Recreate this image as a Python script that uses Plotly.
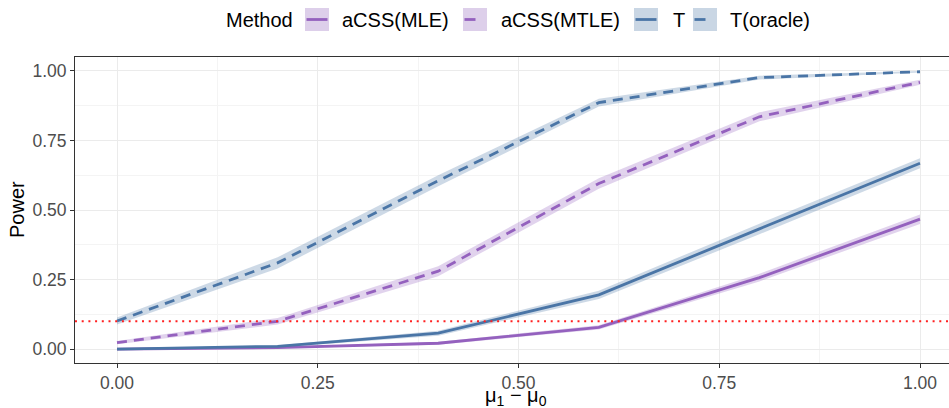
import plotly.graph_objects as go

# ---- data ----
mu_diff = [0.0, 0.2, 0.4, 0.6, 0.8, 1.0]

acss_mle = [0.0, 0.005, 0.021, 0.078, 0.257, 0.467]
acss_mle_lo = [0.0, 0.003, 0.016, 0.070, 0.243, 0.450]
acss_mle_hi = [0.0, 0.007, 0.026, 0.086, 0.271, 0.484]

acss_mtle = [0.023, 0.100, 0.280, 0.595, 0.835, 0.959]
acss_mtle_lo = [0.017, 0.088, 0.262, 0.576, 0.819, 0.950]
acss_mtle_hi = [0.029, 0.112, 0.298, 0.614, 0.851, 0.968]

t_stat = [0.0, 0.010, 0.057, 0.195, 0.432, 0.668]
t_stat_lo = [0.0, 0.006, 0.048, 0.180, 0.413, 0.650]
t_stat_hi = [0.0, 0.014, 0.066, 0.210, 0.451, 0.686]

t_oracle = [0.101, 0.310, 0.605, 0.886, 0.976, 0.997]
t_oracle_lo = [0.088, 0.290, 0.585, 0.872, 0.969, 0.994]
t_oracle_hi = [0.114, 0.330, 0.625, 0.900, 0.983, 1.000]

alpha_level = 0.1
methods = ["aCSS(MLE)", "aCSS(MTLE)", "T", "T(oracle)"]
x_ticks = [0.0, 0.25, 0.5, 0.75, 1.0]
x_tick_text = ["0.00", "0.25", "0.50", "0.75", "1.00"]
y_ticks = [0.0, 0.25, 0.5, 0.75, 1.0]
y_tick_text = ["0.00", "0.25", "0.50", "0.75", "1.00"]

# ---- styles ----
PURPLE = "#9461BE"
BLUE = "#4A75A6"
PURPLE_FILL = "rgba(148,97,190,0.28)"
BLUE_FILL = "rgba(74,117,166,0.28)"
DASH = "10px,7px"
FONT = "Liberation Sans, Arial, Helvetica, sans-serif"

series = [
    (acss_mle, acss_mle_lo, acss_mle_hi, PURPLE, PURPLE_FILL, "solid"),
    (acss_mtle, acss_mtle_lo, acss_mtle_hi, PURPLE, PURPLE_FILL, DASH),
    (t_stat, t_stat_lo, t_stat_hi, BLUE, BLUE_FILL, "solid"),
    (t_oracle, t_oracle_lo, t_oracle_hi, BLUE, BLUE_FILL, DASH),
]

W, H = 949, 408
ML, MR, MT, MB = 75, 0, 57, 45
PW, PH = W - ML - MR, H - MT - MB


def px(xp):
    return (xp - ML) / PW


def py(yp):
    return (H - MB - yp) / PH


fig = go.Figure()

for name, (y, lo, hi, col, fcol, dash) in zip(methods, series):
    fig.add_trace(go.Scatter(
        x=mu_diff + mu_diff[::-1], y=hi + lo[::-1], fill="toself",
        fillcolor=fcol, line=dict(width=0), mode="lines",
        hoverinfo="skip", showlegend=False))
for name, (y, lo, hi, col, fcol, dash) in zip(methods, series):
    fig.add_trace(go.Scatter(
        x=mu_diff, y=y, mode="lines", name=name,
        line=dict(color=col, width=2.8, dash=dash), showlegend=False))

shapes = []
annotations = []

# reference level
shapes.append(dict(type="line", xref="paper", yref="y", x0=0, x1=1,
                   y0=alpha_level, y1=alpha_level,
                   line=dict(color="#FF2020", width=2, dash="2px,4.7px")))

# manual legend
LEG_Y = 19.5
annotations.append(dict(text="Method", xref="paper", yref="paper",
                        x=px(224), y=py(LEG_Y), xanchor="left", yanchor="middle",
                        showarrow=False, font=dict(size=20, color="#000000", family=FONT)))
key_left = [305, 463, 634, 693]
label_left = [340, 499, 671, 728]
for name, (y, lo, hi, col, fcol, dash), kx, lx in zip(methods, series, key_left, label_left):
    solid_fill = "#DDCFEA" if col == PURPLE else "#C9D6E4"
    shapes.append(dict(type="rect", xref="paper", yref="paper",
                       x0=px(kx), x1=px(kx + 24), y0=py(LEG_Y + 11.5), y1=py(LEG_Y - 11.5),
                       fillcolor=solid_fill, line=dict(width=0), layer="above"))
    x_end = kx + 22.5 if dash == "solid" else kx + 12.5
    shapes.append(dict(type="line", xref="paper", yref="paper",
                       x0=px(kx + 1.5), x1=px(x_end), y0=py(LEG_Y), y1=py(LEG_Y),
                       line=dict(color=col, width=2.8, dash="solid"), layer="above"))
    annotations.append(dict(text=name, xref="paper", yref="paper",
                            x=px(lx), y=py(LEG_Y), xanchor="left", yanchor="middle",
                            showarrow=False, font=dict(size=20, color="#000000", family=FONT)))

# axis titles
annotations.append(dict(text="Power", xref="paper", yref="paper", x=px(17), y=py(210),
                        xanchor="center", yanchor="middle", textangle=-90, showarrow=False,
                        font=dict(size=20, color="#000000", family=FONT)))
annotations.append(dict(text="\u03bc<sub>1</sub> \u2212 \u03bc<sub>0</sub>", xref="paper", yref="paper",
                        x=px(516), y=py(396.5), xanchor="center", yanchor="middle", showarrow=False,
                        font=dict(size=20, color="#000000", family=FONT)))

x0_val = -0.0523
x_per_px = 1.0 / 803.0
x1_val = x0_val + PW * x_per_px

fig.update_layout(
    width=W, height=H,
    margin=dict(l=ML, r=MR, t=MT, b=MB, pad=0),
    paper_bgcolor="white", plot_bgcolor="white",
    font=dict(family=FONT),
    showlegend=False,
    shapes=shapes, annotations=annotations,
    xaxis=dict(range=[x0_val, x1_val], tickvals=x_ticks, ticktext=x_tick_text,
               showgrid=True, gridcolor="#EBEBEB", gridwidth=1.1,
               minor=dict(showgrid=True, gridcolor="#F4F4F4", gridwidth=0.6, dtick=0.125, tick0=0),
               zeroline=False, showline=True, linecolor="#333333", linewidth=1, mirror=True,
               ticks="outside", ticklen=4, tickcolor="#333333", tickwidth=1,
               tickfont=dict(size=17.5, color="#4D4D4D", family=FONT)),
    yaxis=dict(range=[-0.05, 1.05], tickvals=y_ticks, ticktext=y_tick_text,
               showgrid=True, gridcolor="#EBEBEB", gridwidth=1.1,
               minor=dict(showgrid=True, gridcolor="#F4F4F4", gridwidth=0.6, dtick=0.125, tick0=0),
               zeroline=False, showline=True, linecolor="#333333", linewidth=1, mirror=False,
               ticks="outside", ticklen=4, tickcolor="#333333", tickwidth=1,
               tickfont=dict(size=17.5, color="#4D4D4D", family=FONT)),
)

fig.write_html("out.html", config={"displayModeBar": False},
               post_script="document.body.style.margin='0';document.body.style.overflow='hidden';")
